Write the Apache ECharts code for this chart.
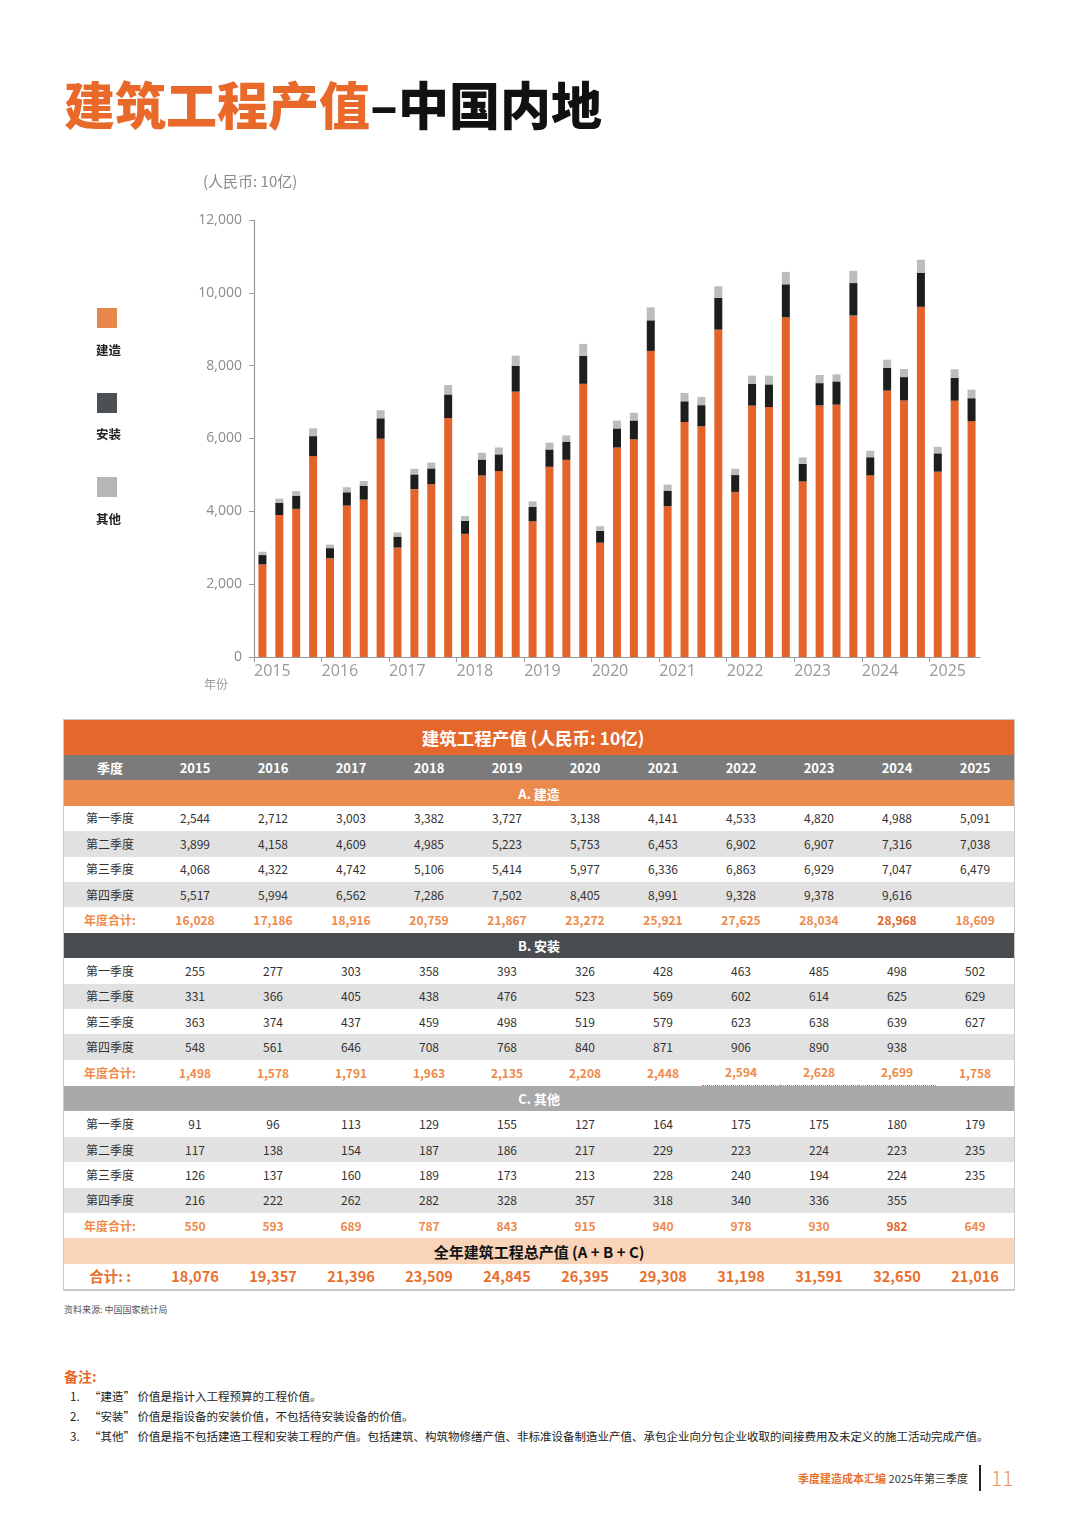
<!DOCTYPE html>
<html><head><meta charset="utf-8">
<script src="https://cdn.jsdelivr.net/npm/echarts@6/dist/echarts.min.js"></script>
<style>
html,body{margin:0;padding:0;background:#fff;}
body{width:1080px;height:1526px;position:relative;overflow:hidden;font-family:"Noto Sans CJK SC","Noto Sans",sans-serif;}
#chart{position:absolute;left:0;top:0;width:1080px;height:712px;}
#tbl{position:absolute;left:63px;top:719px;width:950px;border:1px solid #c9c9c9;border-width:1px 1px 2px 1px;}
table{border-collapse:collapse;border-spacing:0;table-layout:fixed;width:950px;}
td{padding:0;text-align:center;vertical-align:middle;font-size:12px;color:#333;white-space:nowrap;height:25.4px;line-height:1;}
tr.title td{height:35px;background:#E4672B;color:#fff;font-weight:700;font-size:17.5px;padding-right:12px;}
tr.head td{background:#7B7B7B;color:#fff;font-weight:700;font-size:13px;}
tr.secA td{background:#EB8A4D;color:#fff;font-weight:700;font-size:13px;}
tr.secB td{background:#4A4D50;color:#fff;font-weight:700;font-size:13px;}
tr.secC td{background:#A9A9A9;color:#fff;font-weight:700;font-size:13px;}
tr.alt td{background:#E1E1E1;}
tr.tot td{color:#EE8A4A;font-weight:700;font-size:12px;}
tr.peach td{background:#F9D4B8;color:#111;font-weight:700;font-size:15px;}
tr.grand td{color:#E8702E;font-weight:700;font-size:14.5px;}
td.dot{border-bottom:1px dotted #E8702E;}
.src{position:absolute;left:64px;top:1303px;font-size:9px;color:#555;}
.notes{position:absolute;left:64px;top:1366px;}
.notes .h{color:#E8692A;font-weight:700;font-size:14px;}
.notes .it{position:absolute;left:0;font-size:11.5px;color:#222;white-space:nowrap;}
.notes .it span{display:inline-block;width:25px;padding-left:6px;box-sizing:border-box;}
.foot{position:absolute;right:112px;top:1470px;font-size:11px;color:#333;white-space:nowrap;}
.foot b{color:#E8702E;}
.vline{position:absolute;left:979px;top:1465px;width:1.5px;height:26px;background:#222;}
.pg{position:absolute;left:991px;top:1462px;font-size:21px;color:#EA946A;font-weight:300;}
</style></head>
<body>
<div id="chart"></div>
<div id="tbl"></div>
<div class="src">资料来源: 中国国家统计局</div>
<div class="notes">
  <div class="h">备注:</div>
  <div class="it" style="top:22px"><span>1.</span>“建造” 价值是指计入工程预算的工程价值。</div>
  <div class="it" style="top:42px"><span>2.</span>“安装” 价值是指设备的安装价值，不包括待安装设备的价值。</div>
  <div class="it" style="top:62px"><span>3.</span>“其他” 价值是指不包括建造工程和安装工程的产值。包括建筑、构筑物修缮产值、非标准设备制造业产值、承包企业向分包企业收取的间接费用及未定义的施工活动完成产值。</div>
</div>
<div class="foot"><b>季度建造成本汇编</b> 2025年第三季度</div>
<div class="vline"></div>
<div class="pg">11</div>
<script>
// ---------- data ----------
const years = ['2015','2016','2017','2018','2019','2020','2021','2022','2023','2024','2025'];
const quarterNames = ['第一季度','第二季度','第三季度','第四季度'];
const buildQ1 = [2544,2712,3003,3382,3727,3138,4141,4533,4820,4988,5091];
const buildQ2 = [3899,4158,4609,4985,5223,5753,6453,6902,6907,7316,7038];
const buildQ3 = [4068,4322,4742,5106,5414,5977,6336,6863,6929,7047,6479];
const buildQ4 = [5517,5994,6562,7286,7502,8405,8991,9328,9378,9616,null];
const buildTotal = [16028,17186,18916,20759,21867,23272,25921,27625,28034,28968,18609];
const installQ1 = [255,277,303,358,393,326,428,463,485,498,502];
const installQ2 = [331,366,405,438,476,523,569,602,614,625,629];
const installQ3 = [363,374,437,459,498,519,579,623,638,639,627];
const installQ4 = [548,561,646,708,768,840,871,906,890,938,null];
const installTotal = [1498,1578,1791,1963,2135,2208,2448,2594,2628,2699,1758];
const otherQ1 = [91,96,113,129,155,127,164,175,175,180,179];
const otherQ2 = [117,138,154,187,186,217,229,223,224,223,235];
const otherQ3 = [126,137,160,189,173,213,228,240,194,224,235];
const otherQ4 = [216,222,262,282,328,357,318,340,336,355,null];
const otherTotal = [550,593,689,787,843,915,940,978,930,982,649];
const grandTotal = [18076,19357,21396,23509,24845,26395,29308,31198,31591,32650,21016];
const seriesNames = ['建造','安装','其他'];
const yTicks = [0,2000,4000,6000,8000,10000,12000];

// ---------- build chart series ----------
const buildQ = [buildQ1,buildQ2,buildQ3,buildQ4];
const installQ = [installQ1,installQ2,installQ3,installQ4];
const otherQ = [otherQ1,otherQ2,otherQ3,otherQ4];
const cats = [], bS = [], iS = [], oS = [];
years.forEach((y, i) => {
  for (let q = 0; q < 4; q++) {
    if (buildQ[q][i] == null) continue;
    cats.push(y + 'Q' + (q + 1));
    bS.push(buildQ[q][i]); iS.push(installQ[q][i]); oS.push(otherQ[q][i]);
  }
});
const yearTickVals = years.map((y, i) => i * 4);
const fmt = v => v == null ? '' : v.toLocaleString('en-US');

const chart = echarts.init(document.getElementById('chart'));
const grey = '#9a9a9a';
chart.setOption({
  animation: false,
  grid: {left: 254, top: 220, width: 726, height: 437, containLabel: false},
  xAxis: [
    {type: 'category', data: cats, axisLine: {show: true, lineStyle: {color: grey, width: 1.2}},
     axisTick: {show: false}, axisLabel: {show: false}},
    {type: 'value', min: 0, max: cats.length, interval: 4, position: 'bottom',
     axisLine: {show: false}, splitLine: {show: false},
     axisTick: {show: true, length: 5, customValues: yearTickVals, lineStyle: {color: grey}},
     axisLabel: {customValues: yearTickVals, showMaxLabel: true, showMinLabel: true,
       formatter: v => (v % 4 === 0 && years[v / 4]) ? years[v / 4] : '',
       align: 'left', color: '#999', fontSize: 16, margin: 6, fontFamily: 'Open Sans'}}
  ],
  yAxis: {type: 'value', min: yTicks[0], max: yTicks[yTicks.length - 1], interval: 2000,
    axisLine: {show: true, lineStyle: {color: grey, width: 1.2}},
    axisTick: {show: true, length: 5, lineStyle: {color: grey}},
    splitLine: {show: false},
    axisLabel: {formatter: v => fmt(v), color: '#8c8c8c', fontSize: 14, margin: 12, fontFamily: 'Open Sans'}},
  series: [
    {name: seriesNames[0], type: 'bar', stack: 't', data: bS, barWidth: 8, itemStyle: {color: '#E4632A'}},
    {name: seriesNames[1], type: 'bar', stack: 't', data: iS, barWidth: 8, itemStyle: {color: '#1d1d1d'}},
    {name: seriesNames[2], type: 'bar', stack: 't', data: oS, barWidth: 8, itemStyle: {color: '#bcbcbc'}}
  ],
  graphic: [
    {type: 'text', left: 64, top: 80, style: {
      text: '{o|建筑工程产值}{b|–中国内地}',
      rich: {
        o: {fill: '#E8692A', font: '900 51px "Noto Sans CJK SC"'},
        b: {fill: '#111', font: '900 51px "Noto Sans CJK SC"'}
      }}},
    {type: 'text', x: 203, y: 181, style: {text: '(人民币: 10亿)', fill: '#8a8a8a', font: '15px "Noto Sans CJK SC"', verticalAlign: 'middle'}},
    {type: 'text', x: 204, y: 684, style: {text: '年份', fill: '#999', font: '12px "Noto Sans CJK SC"', verticalAlign: 'middle'}},
    {type: 'rect', shape: {x: 97, y: 308, width: 20, height: 20}, style: {fill: '#E8874A'}},
    {type: 'text', x: 96, y: 350, style: {text: seriesNames[0], fill: '#222', font: 'bold 12.5px "Noto Sans CJK SC"', verticalAlign: 'middle'}},
    {type: 'rect', shape: {x: 97, y: 393, width: 20, height: 20}, style: {fill: '#4B5055'}},
    {type: 'text', x: 96, y: 434, style: {text: seriesNames[1], fill: '#222', font: 'bold 12.5px "Noto Sans CJK SC"', verticalAlign: 'middle'}},
    {type: 'rect', shape: {x: 97, y: 477, width: 20, height: 20}, style: {fill: '#B6B6B6'}},
    {type: 'text', x: 96, y: 519, style: {text: seriesNames[2], fill: '#222', font: 'bold 12.5px "Noto Sans CJK SC"', verticalAlign: 'middle'}}
  ]
});

// ---------- table ----------
function row(cls, cells, extra) {
  return '<tr class="' + cls + '">' + cells.map((c, i) => {
    const x = extra ? extra(i) : '';
    return '<td' + x + '>' + c + '</td>';
  }).join('') + '</tr>';
}
let h = '<table><colgroup><col style="width:92px">' + years.map(() => '<col style="width:78px">').join('') + '</colgroup>';
h += '<tr class="title"><td colspan="12">建筑工程产值 (人民币: 10亿)</td></tr>';
h += row('head', ['季度'].concat(years));
function section(cls, label, qs, tot, dotCols) {
  let s = '<tr class="' + cls + '"><td colspan="12">' + label + '</td></tr>';
  qs.forEach((arr, q) => { s += row(q % 2 ? 'alt' : '', [quarterNames[q]].concat(arr.map(fmt))); });
  s += row('tot', ['年度合计:'].concat(tot.map(fmt)), i => {
    let a = '';
    if (dotCols && dotCols.indexOf(i) >= 0) a += ' class="dot"';
    if (cls === 'secA' && i === 10) a += ' style="color:#E0662A"';
    if (cls === 'secC' && i === 10) a += ' style="color:#E0662A"';
    return a;
  });
  return s;
}
h += section('secA', 'A. 建造', buildQ, buildTotal);
h += section('secB', 'B. 安装', installQ, installTotal, [8, 9, 10]);
h += section('secC', 'C. 其他', otherQ, otherTotal);
h += '<tr class="peach"><td colspan="12">全年建筑工程总产值 (A + B + C)</td></tr>';
h += row('grand', ['合计: :'].concat(grandTotal.map(fmt)));
h += '</table>';
document.getElementById('tbl').innerHTML = h;
</script>
</body></html>
